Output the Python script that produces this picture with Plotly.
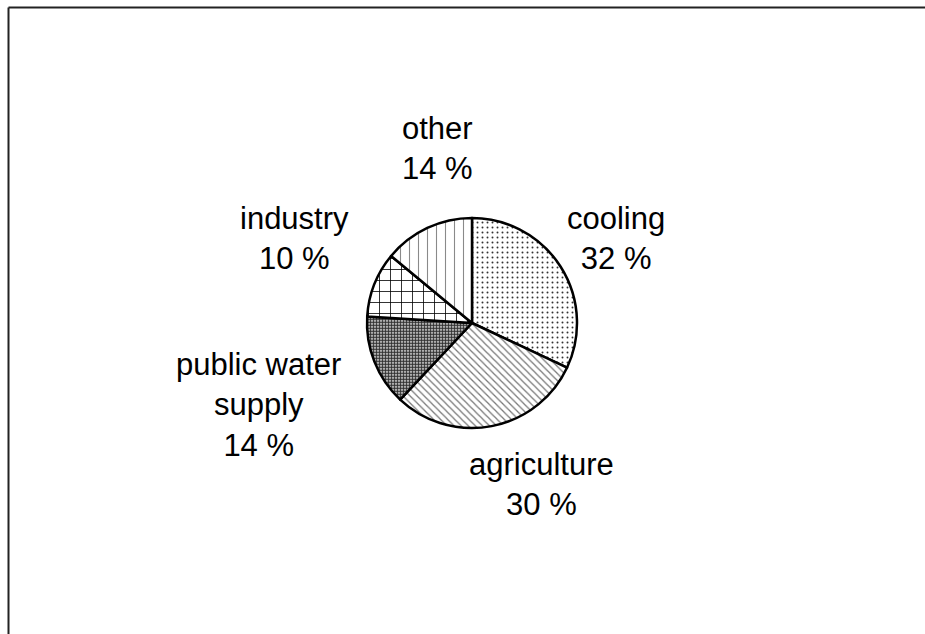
import plotly.graph_objects as go

# Water abstraction by use
categories = ["cooling", "agriculture", "public water supply", "industry", "other"]
shares = [32, 30, 14, 10, 14]
label_lines = [["cooling"], ["agriculture"], ["public water", "supply"], ["industry"], ["other"]]

# Fill patterns per slice
pattern_shapes = [".", "\\", ".", "+", "|"]
pattern_sizes = [5, 5, 3, 11, 9]
pattern_solidity = [0.12, 0.25, 0.7, 0.14, 0.12]
pattern_fg = ["#333333", "#777777", "#333333", "#000000", "#8a8a8a"]

W, H = 925, 634

# Label block centres in pixels (x, y)
label_pos = [(616, 238), (541, 484), (258, 405), (294, 238), (437, 148)]

cx, cy, r = 472, 323, 105

fig = go.Figure(
    go.Pie(
        labels=categories,
        values=shares,
        sort=False,
        direction="clockwise",
        rotation=0,
        textinfo="none",
        hoverinfo="label+percent",
        showlegend=False,
        marker=dict(
            colors=["white"] * len(categories),
            line=dict(color="black", width=2.5),
            pattern=dict(
                shape=pattern_shapes,
                size=pattern_sizes,
                solidity=pattern_solidity,
                fgcolor=pattern_fg,
                bgcolor="white",
                fillmode="replace",
            ),
        ),
        domain=dict(
            x=[(cx - r) / W, (cx + r) / W],
            y=[1 - (cy + r) / H, 1 - (cy - r) / H],
        ),
    )
)

total = sum(shares)
annotations = []
for lines, v, (px, py) in zip(label_lines, shares, label_pos):
    text = "<br>".join(lines + [f"{round(100 * v / total)} %"])
    annotations.append(
        dict(
            x=px / W,
            y=1 - py / H,
            xref="paper",
            yref="paper",
            text=text,
            showarrow=False,
            xanchor="center",
            yanchor="middle",
            align="center",
            font=dict(family="Liberation Sans, Arial, sans-serif", size=31, color="black"),
        )
    )

# Frame running off the right and bottom edges
shapes = [
    dict(type="line", xref="paper", yref="paper", x0=8.5 / W, x1=1.02, y0=1 - 7.5 / H, y1=1 - 7.5 / H,
         line=dict(color="#222222", width=2)),
    dict(type="line", xref="paper", yref="paper", x0=8.5 / W, x1=8.5 / W, y0=1 - 7.5 / H, y1=-0.02,
         line=dict(color="#222222", width=2)),
]

fig.update_layout(
    width=W,
    height=H,
    margin=dict(l=0, r=0, t=0, b=0),
    paper_bgcolor="white",
    plot_bgcolor="white",
    annotations=annotations,
    shapes=shapes,
)

fig.write_html("out.html")
